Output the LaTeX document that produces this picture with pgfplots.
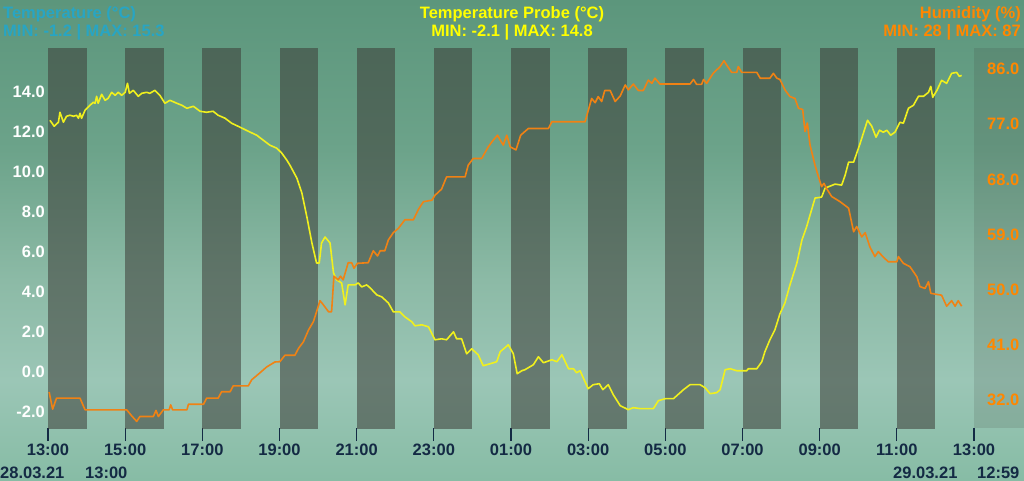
\documentclass[border=0pt]{standalone}
\usepackage{pgfplots}
\pgfplotsset{compat=1.18}
\usepackage{fontspec}
\setmainfont{Liberation Sans}
\definecolor{cyanc}{RGB}{40,165,195}
\definecolor{yelc}{RGB}{255,255,0}
\definecolor{yelline}{RGB}{240,240,30}
\definecolor{orac}{RGB}{255,135,0}
\definecolor{oraline}{RGB}{240,130,20}
\definecolor{navyc}{RGB}{20,42,68}
\definecolor{bandc}{RGB}{60,60,55}
\definecolor{bg0}{RGB}{135,188,165}
\definecolor{bg1}{RGB}{155,198,182}
\definecolor{bg2}{RGB}{140,186,166}
\definecolor{bg3}{RGB}{108,163,138}
\definecolor{bg4}{RGB}{92,150,124}
\pgfdeclareverticalshading{bgsh}{100bp}{color(0bp)=(bg0); color(25bp)=(bg0); color(35.4bp)=(bg1); color(45.8bp)=(bg2); color(59.4bp)=(bg3); color(75bp)=(bg4); color(100bp)=(bg4)}
\newcommand{\lbl}{\fontsize{16.5}{18}\selectfont\bfseries}

\pgfplotstableread{
h T
0.05 12.6
0.16 12.3
0.27 12.5
0.31 13.0
0.40 12.5
0.48 12.8
0.57 12.85
0.66 12.8
0.74 12.85
0.79 12.7
0.83 12.95
0.87 12.7
0.96 13.1
1.09 13.35
1.17 13.5
1.22 13.45
1.26 13.8
1.30 13.45
1.39 13.9
1.48 13.6
1.56 13.7
1.65 14.0
1.74 13.85
1.82 14.0
1.91 13.85
2.00 14.0
2.06 14.45
2.11 13.95
2.21 14.1
2.34 13.8
2.43 13.95
2.56 14.0
2.64 13.95
2.77 14.1
2.90 13.85
3.03 13.45
3.16 13.6
3.34 13.45
3.47 13.35
3.60 13.2
3.77 13.3
3.94 13.05
4.11 13.0
4.28 13.05
4.41 12.85
4.59 12.7
4.76 12.45
4.98 12.25
5.19 12.05
5.41 11.85
5.58 11.6
5.75 11.35
5.93 11.2
6.06 10.95
6.19 10.6
6.27 10.35
6.45 9.7
6.58 8.95
6.71 7.75
6.84 6.45
6.96 5.45
7.03 5.45
7.09 6.45
7.18 6.75
7.31 6.45
7.40 4.95
7.48 4.6
7.61 4.45
7.70 3.35
7.78 4.35
7.96 4.35
8.04 4.45
8.13 4.25
8.26 4.35
8.35 4.2
8.52 3.85
8.65 3.75
8.82 3.45
8.95 3.0
9.12 3.0
9.25 2.75
9.43 2.5
9.51 2.3
9.69 2.35
9.86 2.25
10.03 1.6
10.20 1.65
10.33 1.6
10.51 2.0
10.59 1.65
10.72 1.65
10.85 0.9
10.98 1.15
11.15 0.85
11.28 0.3
11.46 0.4
11.63 0.5
11.72 1.0
11.93 1.35
12.06 0.9
12.16 -0.1
12.28 0.05
12.36 0.1
12.58 0.35
12.71 0.75
12.84 0.45
13.06 0.6
13.19 0.5
13.32 0.85
13.49 0.15
13.62 0.15
13.70 -0.05
13.79 0.05
14.00 -0.85
14.13 -0.65
14.29 -0.6
14.38 -0.9
14.52 -0.65
14.65 -1.15
14.83 -1.7
15.04 -1.9
15.17 -1.8
15.35 -1.85
15.69 -1.85
15.82 -1.45
16.00 -1.35
16.21 -1.35
16.47 -0.9
16.64 -0.65
16.90 -0.65
17.03 -0.8
17.16 -1.1
17.33 -1.05
17.42 -0.9
17.55 0.1
17.68 0.15
17.85 0.05
18.11 0.05
18.15 0.15
18.37 0.15
18.50 0.5
18.58 1.0
18.71 1.6
18.84 2.1
18.97 2.9
19.10 3.45
19.23 4.35
19.41 5.45
19.54 6.6
19.66 7.25
19.75 7.85
19.88 8.7
20.05 8.75
20.14 9.2
20.27 9.3
20.40 9.4
20.57 9.35
20.66 9.85
20.75 10.5
20.88 10.5
21.05 11.45
21.24 12.6
21.35 12.3
21.46 11.75
21.55 12.1
21.65 12.0
21.74 12.1
21.84 11.85
21.95 12.0
22.08 12.5
22.17 12.45
22.30 13.2
22.43 13.35
22.56 13.8
22.69 13.8
22.82 14.0
22.88 14.3
22.93 13.75
23.04 14.1
23.16 14.6
23.29 14.45
23.42 14.95
23.55 15.0
23.62 14.8
23.68 14.85
}\probe

\pgfplotstableread{
h H
0.03 33.3
0.12 30.5
0.22 32.3
0.83 32.3
0.96 30.4
2.04 30.4
2.17 29.4
2.30 28.5
2.38 29.3
2.73 29.3
2.80 30.3
2.86 29.3
2.99 30.4
3.14 30.4
3.18 31.2
3.23 30.4
3.60 30.4
3.64 31.3
4.03 31.3
4.11 32.3
4.41 32.3
4.50 33.35
4.72 33.35
4.80 34.3
5.19 34.3
5.28 35.3
5.45 36.2
5.67 37.4
5.88 38.2
6.01 38.25
6.14 39.3
6.40 39.3
6.49 40.4
6.62 41.5
6.75 43.4
6.88 44.8
6.96 46.4
7.05 48.2
7.14 47.5
7.27 46.4
7.35 46.4
7.41 52.2
7.52 51.6
7.58 52.2
7.65 51.6
7.78 54.4
7.87 54.4
7.93 53.5
8.02 54.3
8.30 54.4
8.43 56.35
8.54 55.5
8.61 56.35
8.73 56.35
8.82 58.1
8.95 59.3
9.08 60.0
9.25 61.4
9.47 61.4
9.60 63.1
9.73 64.35
9.95 64.6
10.03 65.4
10.20 66.4
10.33 68.4
10.81 68.4
10.89 70.3
11.02 71.4
11.24 71.4
11.41 73.3
11.54 74.4
11.65 75.2
11.72 74.4
11.80 73.6
11.89 75.2
11.98 73.3
12.13 72.8
12.25 75.2
12.45 76.3
12.97 76.3
13.06 77.4
13.92 77.4
14.09 81.2
14.18 80.5
14.26 81.5
14.35 80.7
14.43 82.5
14.57 82.5
14.70 80.7
14.83 81.6
14.96 83.4
15.04 82.6
15.17 83.55
15.30 82.5
15.43 82.5
15.56 84.2
15.65 83.65
15.73 84.5
15.86 83.55
16.64 83.55
16.73 84.3
16.81 83.5
16.94 83.5
16.99 84.3
17.07 83.65
17.24 85.3
17.42 86.4
17.52 87.35
17.59 86.65
17.72 85.45
17.85 85.45
17.89 86.4
17.98 85.45
18.37 85.45
18.46 84.5
18.71 84.5
18.80 85.3
18.89 84.5
18.97 84.3
19.10 82.6
19.23 81.5
19.36 81.2
19.45 79.6
19.56 79.4
19.62 75.8
19.68 77.2
19.75 73.6
19.88 70.3
19.97 68.4
20.05 66.8
20.11 67.35
20.18 66.5
20.31 65.2
20.53 64.35
20.75 63.3
20.88 59.45
20.96 60.3
21.09 58.6
21.18 59.3
21.30 57.0
21.43 55.4
21.52 56.2
21.65 55.3
21.78 54.55
22.00 54.55
22.04 55.4
22.17 54.3
22.34 53.75
22.52 52.1
22.60 50.5
22.73 50.2
22.82 51.3
22.88 49.4
23.16 49.1
23.29 47.3
23.42 48.2
23.51 47.3
23.59 48.2
23.68 47.3
}\humid

\begin{document}
\begin{tikzpicture}[x=1pt,y=1pt]
\shade[shading=bgsh] (0,0) rectangle (1024,480);
\path[use as bounding box] (0,0) rectangle (1024,480);
\fill[bandc, opacity=0.15] (974,52) rectangle (1024,432);

\begin{axis}[
  at={(48pt,52pt)}, anchor=south west,
  scale only axis, width=926pt, height=380pt,
  xmin=0, xmax=24, ymin=-2.82, ymax=16.22,
  axis x line*=bottom, axis y line*=left,
  axis line style={draw=none},
  tick align=inside, major tick length=13pt,
  xtick={0,2,...,24},
  xticklabels={13:00,15:00,17:00,19:00,21:00,23:00,01:00,03:00,05:00,07:00,09:00,11:00,13:00},
  x tick style={draw=navyc, line width=1.3pt, yshift=-13pt},
  xticklabel style={font=\lbl, text=navyc, anchor=north, inner sep=0pt, yshift=-16pt},
  ytick={-2,0,2,4,6,8,10,12,14},
  yticklabels={-2.0,0.0,2.0,4.0,6.0,8.0,10.0,12.0,14.0},
  y tick style={draw=none},
  yticklabel style={font=\lbl, text=white, anchor=east, inner sep=0pt, xshift=-3pt},
  clip=true,
]
\pgfplotsinvokeforeach{0,2,...,22}{
  \fill[bandc, opacity=0.55] (axis cs:#1,-5) rectangle ++(axis direction cs:1,30);
}
\addplot[yelline, line width=1.6pt, line join=round] table[x=h, y=T] {\probe};
\end{axis}

\begin{axis}[
  at={(48pt,52pt)}, anchor=south west,
  scale only axis, width=926pt, height=380pt,
  xmin=0, xmax=24, ymin=27.43, ymax=89.43,
  axis x line=none, axis y line*=right,
  axis line style={draw=none},
  tick align=inside,
  ytick={32,41,50,59,68,77,86},
  yticklabels={32.0,41.0,50.0,59.0,68.0,77.0,86.0},
  y tick style={draw=none},
  yticklabel style={font=\lbl, text=orac, anchor=west, inner sep=0pt, xshift=13pt},
]
\addplot[oraline, line width=1.6pt, line join=round] table[x=h, y=H] {\humid};
\end{axis}

\node[anchor=base west, inner sep=0pt, text=cyanc, font=\lbl] at (3,461.5) {Temperature (°C)};
\node[anchor=base west, inner sep=0pt, text=cyanc, font=\lbl] at (3,443) {MIN: -1.2 | MAX: 15.3};
\node[anchor=base, inner sep=0pt, text=yelc, font=\lbl] at (512,461.5) {Temperature Probe (°C)};
\node[anchor=base, inner sep=0pt, text=yelc, font=\lbl] at (512,443) {MIN: -2.1 | MAX: 14.8};
\node[anchor=base east, inner sep=0pt, text=orac, font=\lbl] at (1021,461.5) {Humidity (\%)};
\node[anchor=base east, inner sep=0pt, text=orac, font=\lbl] at (1021,443) {MIN: 28 | MAX: 87};

\node[anchor=base west, inner sep=0pt, text=navyc, font=\lbl] at (0,1.5) {28.03.21};
\node[anchor=base west, inner sep=0pt, text=navyc, font=\lbl] at (85,1.5) {13:00};
\node[anchor=base west, inner sep=0pt, text=navyc, font=\lbl] at (893,1.5) {29.03.21};
\node[anchor=base west, inner sep=0pt, text=navyc, font=\lbl] at (977,1.5) {12:59};
\end{tikzpicture}
\end{document}
